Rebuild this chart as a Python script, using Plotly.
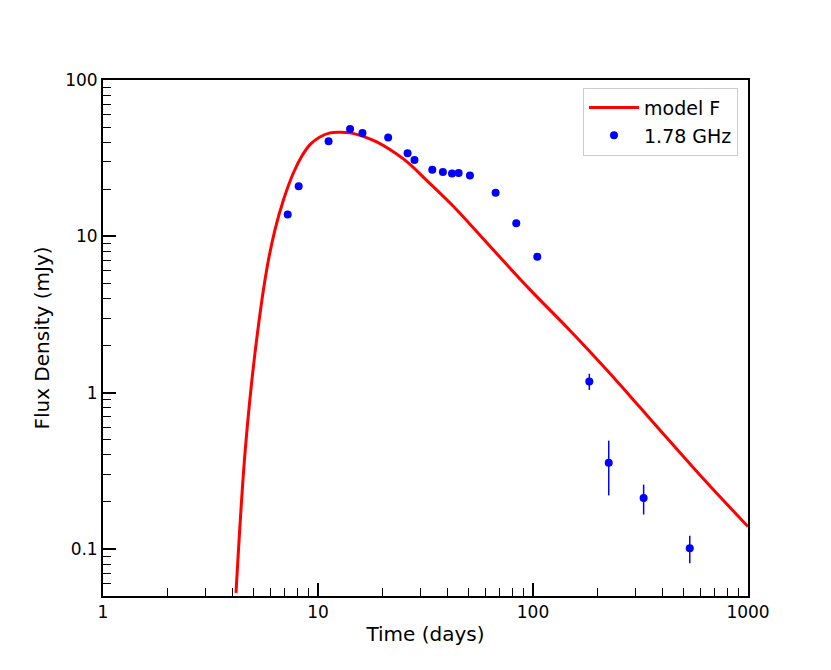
import plotly.graph_objects as go

# Observed 1.78 GHz flux densities
obs_time = [7.23, 8.13, 11.2, 14.1, 16.1, 21.2, 26.1, 28.1, 34.0, 38.1, 42.0, 45.1, 50.9,
            67.0, 83.6, 104.7, 182.8, 225.0, 327.0, 536.0]
obs_flux = [13.8, 20.9, 40.5, 48.6, 45.8, 42.8, 34.0, 30.8, 26.7, 25.8, 25.2, 25.4, 24.5,
            19.0, 12.1, 7.41, 1.18, 0.356, 0.212, 0.101]
err_plus = [0, 0, 0, 0, 0, 0, 0, 0, 0, 0, 0, 0, 0, 0, 0, 0, 0.14, 0.137, 0.046, 0.0206]
err_minus = [0, 0, 0, 0, 0, 0, 0, 0, 0, 0, 0, 0, 0, 0, 0, 0, 0.14, 0.136, 0.046, 0.0201]

# Model F curve
model_time = [4.155, 4.576, 5.093, 5.772, 6.31, 6.90, 7.68, 8.40, 9.18, 10.2, 11.37, 12.66,
              14.1, 16.2, 18.75, 21.6, 26.3, 32.0, 42.6, 63.1, 96.8, 148.6, 220, 315, 449,
              643, 1000]
model_flux = [0.0523, 0.411, 1.795, 6.12, 11.04, 17.0, 25.4, 32.5, 38.6, 43.2, 45.9, 46.3,
              45.9, 43.6, 40.2, 35.9, 29.5, 22.8, 15.56, 8.63, 4.56, 2.50, 1.40, 0.804, 0.462,
              0.266, 0.139]

x_tickvals = [1, 10, 100, 1000]
x_ticktext = ["1", "10", "100", "1000"]
y_tickvals = [0.1, 1, 10, 100]
y_ticktext = ["0.1", "1", "10", "100"]
x_minor = [m * 10 ** k for k in range(0, 3) for m in range(2, 10)]
y_minor = [m * 10 ** k for k in range(-2, 2) for m in range(2, 10) if m * 10 ** k >= 0.05]

fig = go.Figure()
fig.add_trace(go.Scatter(
    x=model_time, y=model_flux, mode="lines", name="model F",
    line=dict(color="#ff0000", width=3, shape="spline", smoothing=1.0),
))
fig.add_trace(go.Scatter(
    x=obs_time, y=obs_flux, mode="markers", name="1.78 GHz",
    marker=dict(color="#0000ff", size=8),
    error_y=dict(type="data", array=err_plus, arrayminus=err_minus, symmetric=False,
                 color="#0000ff", thickness=1.5, width=0),
))

axis_common = dict(
    showline=True, linecolor="black", linewidth=1.8, mirror=True,
    ticks="inside", ticklen=13, tickwidth=1.6, tickcolor="black",
    showgrid=False, zeroline=False,
    tickfont=dict(family="DejaVu Sans", size=17, color="black"),
)

fig.update_xaxes(
    type="log", range=[0, 3], tickmode="array", tickvals=x_tickvals, ticktext=x_ticktext,
    title=dict(text="Time (days)", font=dict(family="DejaVu Sans", size=20, color="black"),
               standoff=6),
    minor=dict(tickmode="array", tickvals=x_minor, ticks="inside", ticklen=8,
               tickwidth=1.3, tickcolor="black", showgrid=False),
    **axis_common,
)
fig.update_yaxes(
    type="log", range=[-1.30103, 2], tickmode="array", tickvals=y_tickvals, ticktext=y_ticktext,
    title=dict(text="Flux Density (mJy)", font=dict(family="DejaVu Sans", size=20, color="black"),
               standoff=10),
    minor=dict(tickmode="array", tickvals=y_minor, ticks="inside", ticklen=8,
               tickwidth=1.3, tickcolor="black", showgrid=False),
    **axis_common,
)

fig.update_layout(
    width=831, height=670,
    margin=dict(l=95, r=91, t=72, b=82),
    plot_bgcolor="white", paper_bgcolor="white",
    font=dict(family="DejaVu Sans", color="black"),
    legend=dict(x=0.9845, y=0.985, xanchor="right", yanchor="top",
                bgcolor="white", bordercolor="#cccccc", borderwidth=1,
                itemwidth=50,
                font=dict(family="DejaVu Sans", size=19, color="black")),
)

fig.write_html("out.html")
